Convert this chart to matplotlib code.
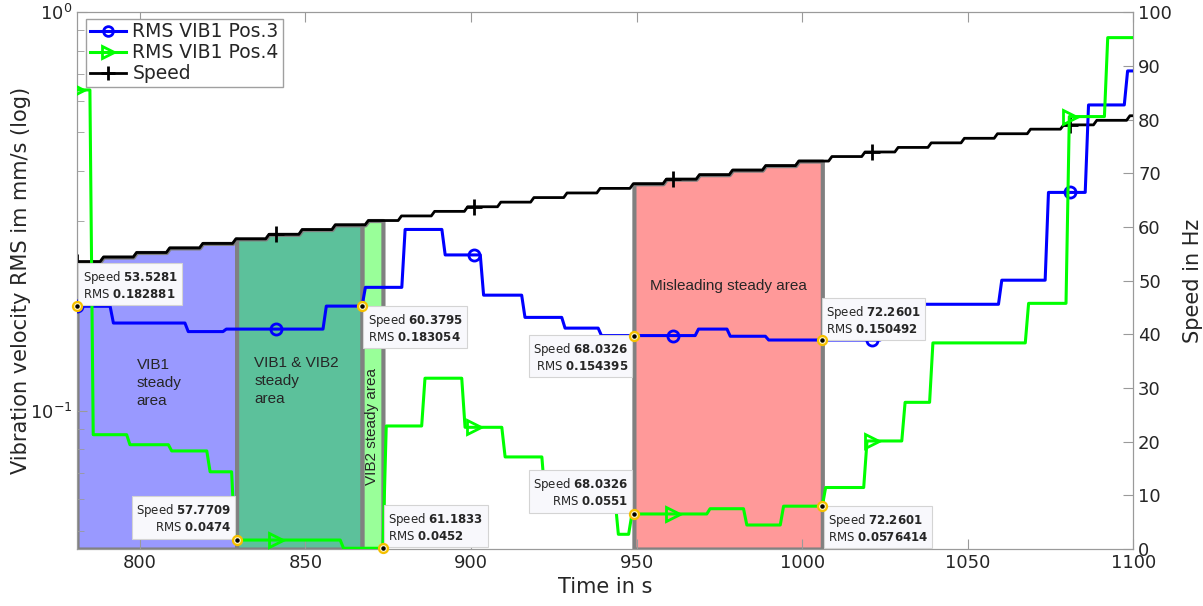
import matplotlib
matplotlib.use("Agg")
import matplotlib.pyplot as plt
from matplotlib.lines import Line2D
from matplotlib.ticker import LogLocator, NullFormatter, MultipleLocator
import numpy as np

# speed in Hz: one new level after each step time
speed_step_t = [788, 798, 808, 818, 828, 838, 848, 858, 868, 878, 888, 898, 908,
                918, 928, 938, 948, 958, 968, 978, 988, 998, 1008, 1018, 1028,
                1038, 1048, 1058, 1068, 1078, 1088, 1098]
speed_levels = [53.5281, 54.38, 55.23, 56.08, 56.92, 57.7709, 58.61, 59.50, 60.3795,
                61.1833, 62.04, 62.89, 63.75, 64.61, 65.46, 66.32, 67.17, 68.0326,
                68.88, 69.72, 70.57, 71.41, 72.2601, 73.10, 73.95, 74.80, 75.65,
                76.50, 77.35, 78.20, 79.00, 79.85, 80.70]

# RMS VIB1 Pos.3 (mm/s)
pos3_step_t = [791.0, 813.6, 825.1, 855.3, 867.1, 879.1, 891.2, 902.8, 915.3, 927.4,
               938.4, 967.7, 977.3, 988.9, 1023.6, 1059.3, 1073.4, 1085.5, 1097.3]
pos3_rms = [0.182881, 0.166, 0.158, 0.1603, 0.183054, 0.204, 0.285, 0.246, 0.195,
            0.1715, 0.1612, 0.154395, 0.1603, 0.1538, 0.150492, 0.185, 0.2126,
            0.353, 0.585, 0.712]

# RMS VIB1 Pos.4 (mm/s)
pos4_step_t = [784.9, 796.0, 808.6, 820.2, 827.7, 860.5, 873.4, 885.1, 897.2, 909.3,
               921.4, 943.5, 947.6, 971.2, 982.3, 993.4, 1006.1, 1018.6, 1030.1,
               1038.5, 1067.4, 1079.7, 1091.3]
pos4_rms = [0.638, 0.0871, 0.0822, 0.0793, 0.0703, 0.0474, 0.0452, 0.0916, 0.1207,
            0.0909, 0.0766, 0.060, 0.049, 0.0551, 0.0568, 0.0517, 0.0576414, 0.0642,
            0.084, 0.105, 0.148, 0.186, 0.547, 0.863]

marker_t = [781, 841, 901, 961, 1021, 1081]

# steady areas (start, end, colour)
areas = [(781, 829.2, "#9999ff"),
         (829.2, 867.1, "#5cc19b"),
         (867.1, 873.4, "#99ff99"),
         (949.2, 1006.1, "#ff9999")]

# data tips: time, which channel, box offset and anchor
tip_t = [781, 829.2, 867.1, 873.4, 949.2, 949.2, 1006.1, 1006.1]
tip_ch = ["pos3", "pos4", "pos3", "pos4", "pos3", "pos4", "pos3", "pos4"]
tip_off = [(4, 4, "left", "bottom"), (-4, 4, "right", "bottom"),
           (4, -4, "left", "top"), (4, 4, "left", "bottom"),
           (-4, -4, "right", "top"), (-4, 4, "right", "bottom"),
           (3, 3, "left", "bottom"), (4, -4, "left", "top")]

T0, T1 = 781, 1100


def stairs(step_t, levels, dt=1.0):
    xs, ys = [T0], [levels[0]]
    for t, a, b in zip(step_t, levels[:-1], levels[1:]):
        xs += [t, t + dt]
        ys += [a, b]
    xs.append(T1)
    ys.append(levels[-1])
    return np.array(xs), np.array(ys)


sx, sy = stairs(speed_step_t, speed_levels)
bx, by = stairs(pos3_step_t, pos3_rms)
gx, gy = stairs(pos4_step_t, pos4_rms)
series = {"pos3": (bx, by), "pos4": (gx, gy)}

fig = plt.figure(figsize=(12.03, 6.06), dpi=100)
ax = fig.add_axes([0.064, 0.094, 0.878, 0.886])
ax2 = ax.twinx()
ax.set_zorder(2)
ax2.set_zorder(1)
ax.patch.set_visible(False)

grey = "#9a9a9a"
txt = "#262626"

# steady areas under the speed curve
for a, b, col in areas:
    m = (sx > a) & (sx < b)
    tt = np.concatenate([[a], sx[m], [b]])
    ss = np.concatenate([[np.interp(a, sx, sy)], sy[m], [np.interp(b, sx, sy)]])
    ax2.fill_between(tt, 0, ss, facecolor=col, edgecolor="#808080", lw=3, zorder=1)

ax2.plot(sx, sy, color="k", lw=2, zorder=3)
ax2.plot(marker_t, np.interp(marker_t, sx, sy), ls="none", marker="+", ms=11,
         mew=2, color="k", zorder=3)

ax.plot(bx, by, color="#0000ff", lw=2.2, zorder=3)
ax.plot(marker_t, np.interp(marker_t, bx, by), ls="none", marker="o", ms=8,
        mfc="none", mec="#0000ff", mew=2, zorder=3)
ax.plot(gx, gy, color="#00ff00", lw=2.2, zorder=3)
ax.plot(marker_t, np.interp(marker_t, gx, gy), ls="none", marker=">", ms=10,
        mfc="none", mec="#00ff00", mew=2, zorder=3)

# area labels
lab_font = dict(family="Liberation Sans", fontsize=11, color=txt, linespacing=1.35)
ax.text(799, 0.1175, "VIB1\nsteady\narea", ha="left", va="center", **lab_font)
ax.text(834.5, 0.1189, "VIB1 & VIB2\nsteady\narea", ha="left", va="center", **lab_font)
ax.text(870.2, 0.0912, "VIB2 steady area", ha="center", va="center",
        rotation=90, **lab_font)
ax.text(977.7, 0.2053, "Misleading steady area", ha="center", va="center", **lab_font)

# data tips
for t, ch, (dx, dy, ha, va) in zip(tip_t, tip_ch, tip_off):
    x, y = series[ch]
    rms = np.interp(t, x, y)
    spd = np.interp(t, sx, sy)
    label = "Speed $\\bf{%.4f}$\nRMS $\\bf{%g}$" % (spd, rms)
    ax.annotate(label, (t, rms), xytext=(dx, dy), textcoords="offset points",
                ha=ha, va=va, multialignment=ha,
                fontsize=8.5, color=txt, zorder=6,
                bbox=dict(boxstyle="square,pad=0.35", fc="#f8f8fc",
                          ec="#d4d4d4", lw=0.8))
    ax.plot(t, rms, ls="none", marker="o", ms=6.5, mfc="#fff6c8", mec="#f5c000",
            mew=1.6, zorder=7, clip_on=False)
    ax.plot(t, rms, ls="none", marker="o", ms=2.2, color="k", zorder=8,
            clip_on=False)

ax.set_yscale("log")
ax.set_xlim(T0, T1)
ax.set_ylim(0.045, 1)
ax2.set_ylim(0, 100)
ax.set_xticks([800, 850, 900, 950, 1000, 1050, 1100])
ax.yaxis.set_major_locator(LogLocator(base=10))
ax.yaxis.set_minor_locator(LogLocator(base=10, subs=np.arange(2, 10)))
ax.yaxis.set_minor_formatter(NullFormatter())
ax2.yaxis.set_major_locator(MultipleLocator(10))

ax.tick_params(which="both", direction="in", top=True, colors=grey,
               labelcolor=txt, labelsize=13)
ax.tick_params(which="major", length=7)
ax.tick_params(which="minor", length=5)
ax2.tick_params(direction="in", length=7, colors=grey, labelcolor=txt, labelsize=13)
for a in (ax, ax2):
    for sp in a.spines.values():
        sp.set_color(grey)

ax.set_xlabel("Time in s", fontsize=15, color=txt, labelpad=4)
ax.set_ylabel("Vibration velocity RMS im mm/s (log)", fontsize=15, color=txt,
              labelpad=-1)
ax2.set_ylabel("Speed in Hz", fontsize=15, color=txt, labelpad=8)

handles = [
    Line2D([], [], color="#0000ff", lw=2.2, marker="o", ms=7, mfc="none", mew=2),
    Line2D([], [], color="#00ff00", lw=2.2, marker=">", ms=8, mfc="none", mew=2),
    Line2D([], [], color="k", lw=2, marker="+", ms=10, mew=2),
]
leg = ax.legend(handles, ["RMS VIB1 Pos.3", "RMS VIB1 Pos.4", "Speed"],
                loc="upper left", bbox_to_anchor=(0.009, 0.988), borderaxespad=0,
                fontsize=13.5, fancybox=False, framealpha=1, handlelength=1.9,
                handletextpad=0.35, borderpad=0.2, labelspacing=0.1)
leg.get_frame().set_edgecolor("#a0a0a0")
leg.set_zorder(10)
for t in leg.get_texts():
    t.set_color(txt)

fig.savefig("out.png", dpi=100)
